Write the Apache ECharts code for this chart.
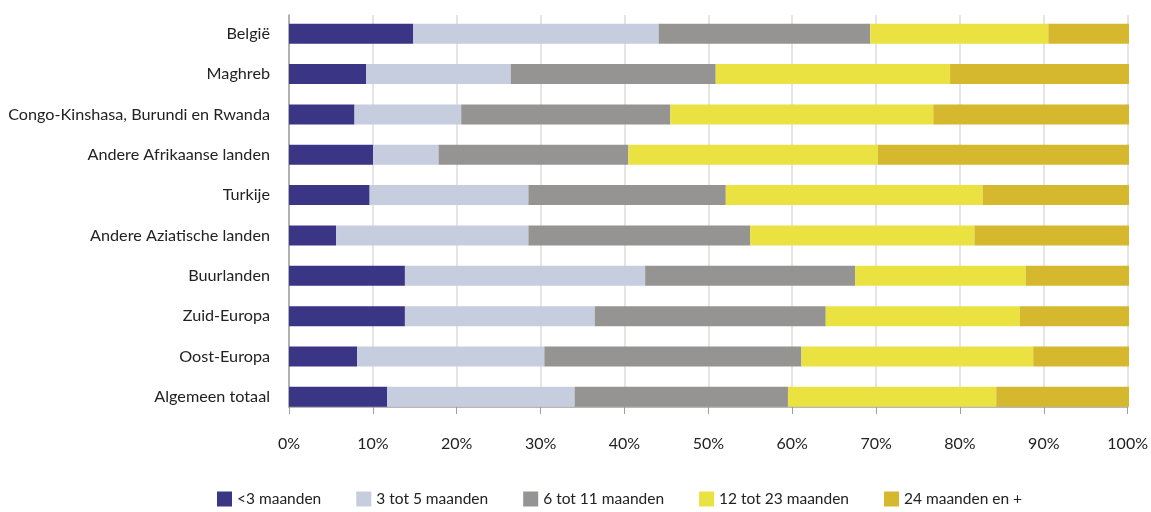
<!DOCTYPE html>
<html><head><meta charset="utf-8">
<script src="https://cdn.jsdelivr.net/npm/echarts@6/dist/echarts.min.js"></script>
<style>html,body{margin:0;padding:0;background:#fff}#c{width:1151px;height:512px}</style>
</head><body><div id="c"></div>
<script>
const categories = ["België","Maghreb","Congo-Kinshasa, Burundi en Rwanda","Andere Afrikaanse landen","Turkije","Andere Aziatische landen","Buurlanden","Zuid-Europa","Oost-Europa","Algemeen totaal"];
const seriesNames = ["<3 maanden","3 tot 5 maanden","6 tot 11 maanden","12 tot 23 maanden","24 maanden en +"];
const lt3 =      [14.8, 9.2, 7.8, 10.0, 9.6, 5.6, 13.8, 13.8, 8.1, 11.7];
const m3to5 =    [29.2, 17.2, 12.7, 7.8, 18.9, 22.9, 28.6, 22.6, 22.3, 22.3];
const m6to11 =   [25.2, 24.4, 24.9, 22.6, 23.5, 26.4, 25.0, 27.5, 30.6, 25.4];
const m12to23 =  [21.2, 27.9, 31.3, 29.7, 30.6, 26.7, 20.3, 23.1, 27.6, 24.8];
const m24plus =  [9.6, 21.3, 23.3, 29.9, 17.4, 18.4, 12.3, 13.0, 11.4, 15.8];
const tickLabels = ["0%","10%","20%","30%","40%","50%","60%","70%","80%","90%","100%"];
const colors = ["#3b3586","#c6cddf","#959492","#e9e240","#d6b82f"];
const values = [lt3, m3to5, m6to11, m12to23, m24plus];
const font = "Lato";
const chart = echarts.init(document.getElementById('c'), null, {renderer:'canvas'});
chart.setOption({
  animation:false,
  color: colors,
  textStyle:{fontFamily:font},
  grid:[
    {left:289, right:22, top:13.5, bottom:95},
    {left:289, right:22, top:15, bottom:105}
  ],
  legend:{
    bottom:5, left:217, padding:0, itemWidth:15, itemHeight:15, itemGap:35,
    icon:'rect',
    textStyle:{fontFamily:font, fontSize:15.5, color:'#222'},
    data: seriesNames
  },
  xAxis:[
    {gridIndex:0, type:'value', min:0, max:100, show:false},
    {gridIndex:1, type:'value', min:0, max:100, interval:10,
      axisLine:{show:true, lineStyle:{color:'#a0a0a0', width:1.5}},
      axisTick:{show:true, length:7, lineStyle:{color:'#a0a0a0'}},
      splitLine:{show:true, lineStyle:{color:'#dcdcd8', width:1.5}},
      axisLabel:{margin:29, fontSize:16, color:'#222', fontFamily:font,
        formatter:function(v){return tickLabels[Math.round(v/10)];}}
    }
  ],
  yAxis:[
    {gridIndex:0, type:'category', data:categories, inverse:true,
      axisLine:{show:false}, axisTick:{show:false}, splitLine:{show:false},
      axisLabel:{margin:19, fontSize:16.2, color:'#222', fontFamily:font}},
    {gridIndex:1, type:'value', min:0, max:1,
      axisLine:{show:true, lineStyle:{color:'#a0a0a0', width:1.5}},
      axisTick:{show:false}, axisLabel:{show:false}, splitLine:{show:false}}
  ],
  series: seriesNames.map((n,i)=>({
    name:n, type:'bar', stack:'total', xAxisIndex:0, yAxisIndex:0,
    barWidth:20, data: values[i], z:3,
    itemStyle:{color:colors[i]}
  }))
});
</script></body></html>
